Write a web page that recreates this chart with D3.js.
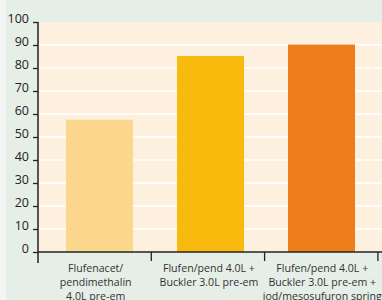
<!DOCTYPE html>
<html>
<head>
<meta charset="utf-8">
<script src="https://cdn.jsdelivr.net/npm/d3@7"></script>
<style>
  body { margin: 0; }
  svg { display: block; font-family: "Open Sans", sans-serif; }
</style>
</head>
<body>
<svg id="chart" width="382" height="300"></svg>
<script>
// data
var categories = [
    [ "Flufenacet/", "pendimethalin", "4.0L pre-em" ],
    [ "Flufen/pend 4.0L +", "Buckler 3.0L pre-em" ],
    [ "Flufen/pend 4.0L +", "Buckler 3.0L pre-em +", "iod/mesosufuron spring" ]
];
var values = [ 57.5, 85.2, 90.2 ];
var colours = [ "#fcd78e", "#f8ba0c", "#ee7e19" ];
var yTicks = [ 0, 10, 20, 30, 40, 50, 60, 70, 80, 90, 100 ];

var svg = d3.select( "#chart" );
var mLeft = 38, mTop = 22, mBottom = 252;
var barW = 67;

svg.append( "rect" ).attr( "width", 382 ).attr( "height", 300 ).attr( "fill", "#e5eee7" );
svg.append( "rect" ).attr( "width", 6 ).attr( "height", 300 ).attr( "fill", "#f3f6f3" );

// bar centres
var x = d3.scalePoint()
    .domain( d3.range( categories.length ) )
    .range( [ 99.5, 321.5 ] );
var xTicks = d3.scaleBand().domain( d3.range( categories.length ) ).range( [ mLeft, mLeft + 3 * 113.3 ] );

var y = d3.scaleLinear().domain( [ 0, 100 ] ).range( [ mBottom, mTop ] );

svg.append( "rect" )
    .attr( "x", mLeft ).attr( "y", mTop )
    .attr( "width", 382 - mLeft ).attr( "height", mBottom - mTop )
    .attr( "fill", "#fdf0de" );

// gridlines
svg.append( "g" ).selectAll( "line" )
    .data( yTicks.filter( function( d ) { return d > 0 && d < 100; } ) )
    .join( "line" )
    .attr( "x1", mLeft ).attr( "x2", 382 )
    .attr( "y1", function( d ) { return y( d ); } )
    .attr( "y2", function( d ) { return y( d ); } )
    .attr( "stroke", "#ffffff" ).attr( "stroke-width", 1.6 );

// bars
svg.append( "g" ).selectAll( "rect" )
    .data( values )
    .join( "rect" )
    .attr( "x", function( d, i ) { return x( i ) - barW / 2; } )
    .attr( "width", barW )
    .attr( "y", function( d ) { return y( d ); } )
    .attr( "height", function( d ) { return mBottom - y( d ); } )
    .attr( "fill", function( d, i ) { return colours[ i ]; } );

// y axis
var yAxis = svg.append( "g" )
    .attr( "transform", "translate(" + mLeft + ",0)" )
    .call( d3.axisLeft( y ).tickValues( yTicks ).tickSize( 5 ).tickPadding( 4 ) );
yAxis.select( ".domain" ).attr( "d", "M0," + mTop + "V" + ( mBottom + 11 ) ).attr( "stroke", "#222" ).attr( "stroke-width", 1.5 );
yAxis.selectAll( ".tick line" ).attr( "stroke", "#222" ).attr( "stroke-width", 1.3 );
yAxis.selectAll( ".tick text" )
    .attr( "dy", "0.05em" )
    .attr( "fill", "#222" )
    .style( "font-size", "12.5px" )
    .style( "font-family", "Open Sans, sans-serif" );

// x axis
var xAxis = svg.append( "g" ).attr( "transform", "translate(0," + mBottom + ")" );
xAxis.append( "line" ).attr( "x1", mLeft ).attr( "x2", 382 ).attr( "stroke", "#222" ).attr( "stroke-width", 1.5 );
xAxis.selectAll( "line.tk" )
    .data( d3.range( categories.length ) )
    .join( "line" ).attr( "class", "tk" )
    .attr( "x1", function( d ) { return xTicks( d ) + xTicks.bandwidth(); } )
    .attr( "x2", function( d ) { return xTicks( d ) + xTicks.bandwidth(); } )
    .attr( "y1", 0 ).attr( "y2", 9 )
    .attr( "stroke", "#222" ).attr( "stroke-width", 1.3 );

var labels = xAxis.selectAll( "text" )
    .data( categories )
    .join( "text" )
    .attr( "text-anchor", "middle" )
    .attr( "transform", function( d, i ) { return "translate(" + ( xTicks( i ) + xTicks.bandwidth() / 2 + 1 ) + ",0)"; } )
    .attr( "fill", "#333" )
    .style( "font-size", "10.6px" );
labels.selectAll( "tspan" )
    .data( function( d ) { return d; } )
    .join( "tspan" )
    .attr( "x", 0 )
    .attr( "y", function( d, i ) { return 20 + i * 14; } )
    .text( function( d ) { return d; } );
</script>
</body>
</html>
